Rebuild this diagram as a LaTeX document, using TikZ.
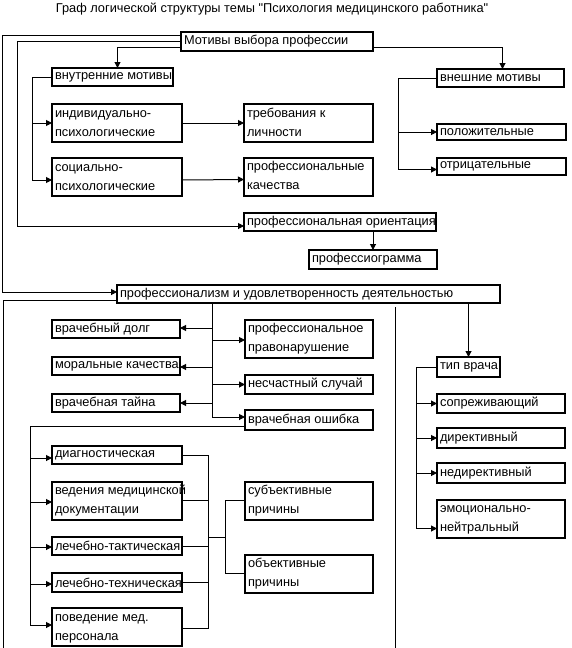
\documentclass[tikz,border=0pt]{standalone}
\usepackage{fontspec}
\setmainfont{Liberation Sans}
\newfontfamily\plainf{Liberation Sans}
\usetikzlibrary{arrows.meta}
\newcommand\tl[2]{\begin{tabular}{@{}l@{}}#1\\#2\end{tabular}}
\newcommand\bx[6]{%
 \pgfmathsetmacro\bw{#4-#2}%
 \pgfmathsetmacro\bh{#5-#3}%
 \pgfmathsetmacro\tw{#4-#2-6}%
 \node[box, minimum width=\bw pt, minimum height=\bh pt] (#1) at ({(#2+#4)/2},{(#3+#5)/2}) {\makebox[\tw pt][l]{#6}};}
\tikzset{
 box/.style={draw, line width=2pt, inner xsep=3pt, inner ysep=0pt, outer sep=0pt, fill=white},
 con/.style={line width=1pt},
 arr/.style={line width=1pt, -{Triangle[length=6pt,width=6pt]}}
}
\begin{document}
\begin{tikzpicture}[x=1pt,y=-1pt,font=\plainf\fontsize{12.8}{19}\selectfont]
\useasboundingbox[fill=white] (0,0) rectangle (571,648);
\node[inner sep=0pt] (title) at (272,9) {Граф логической структуры темы "Психология медицинского работника"};
% boxes
\bx{m}{181}{32}{373}{51}{Мотивы выбора профессии}
\bx{vn}{52}{68}{173}{86}{внутренние мотивы}
\bx{ext}{437}{69}{564}{87}{внешние мотивы}
\bx{ind}{52}{104}{182}{142}{\tl{индивидуально-}{психологические}}
\bx{soc}{52}{159}{182}{195}{\tl{социально-}{психологические}}
\bx{treb}{244}{105}{373}{141}{\tl{требования к}{личности}}
\bx{pk}{244}{158}{373}{195}{\tl{профессиональные}{качества}}
\bx{pol}{437}{124}{566}{140}{положительные}
\bx{otr}{437}{158}{566}{175}{отрицательные}
\bx{po}{244}{213}{436}{231}{профессиональная ориентация}
\bx{pg}{309}{250}{437}{269}{профессиограмма}
\bx{prof}{117}{285}{500}{303}{профессионализм и удовлетворенность деятельностью}
\bx{dolg}{52}{320}{180}{338}{врачебный долг}
\bx{mor}{52}{357}{180}{375}{моральные качества}
\bx{tai}{52}{394}{180}{412}{врачебная тайна}
\bx{pravo}{245}{320}{373}{357}{\tl{профессиональное}{правонарушение}}
\bx{ns}{245}{375}{373}{394}{несчастный случай}
\bx{osh}{245}{410}{373}{430}{врачебная ошибка}
\bx{tip}{437}{357}{500}{377}{тип врача}
\bx{sop}{437}{394}{565}{413}{сопреживающий}
\bx{dir}{437}{428}{565}{448}{директивный}
\bx{nedir}{437}{463}{565}{483}{недирективный}
\bx{emo}{437}{500}{565}{537}{\tl{эмоционально-}{нейтральный}}
\bx{diag}{52}{446}{182}{464}{диагностическая}
\bx{ved}{52}{482}{182}{519}{\tl{ведения медицинской}{документации}}
\bx{lt}{52}{537}{182}{555}{лечебно-тактическая}
\bx{ltech}{52}{573}{182}{592}{лечебно-техническая}
\bx{pov}{52}{609}{182}{645}{\tl{поведение мед.}{персонала}}
\bx{sub}{245}{482}{373}{519}{\tl{субъективные}{причины}}
\bx{obj}{245}{555}{373}{592}{\tl{объективные}{причины}}
% connectors from the main box
\draw[arr] ([yshift=-3pt]m.north west) -- (2,35) -- (2,292) -- ([yshift=-7pt]prof.north west);
\draw[arr] ([yshift=-9pt]m.north west) -- (17,41) -- (17,226) -- ([yshift=-13pt]po.north west);
\draw[arr] ([yshift=-15pt]m.north west) -| ([xshift=5pt]vn.north);
\draw[arr] ([yshift=-15pt]m.north east) -| ([xshift=2pt]ext.north);
\draw[arr] (vn.west) -- ++(-20,0) |- (ind.west);
\draw[arr] (vn.west) -- ++(-20,0) |- ([yshift=-3pt]soc.west);
\draw[arr] (ind.east) -- (treb.west);
\draw[arr] ([yshift=-3pt]soc.east) -- ([yshift=-3pt]pk.west);
\draw[arr] (ext.west) -- ++(-39,0) |- (pol.west);
\draw[arr] (ext.west) -- ++(-39,0) |- ([yshift=-3pt]otr.west);
\draw[arr] (po.south -| pg.north) -- (pg.north);
% professionalism block
\coordinate (j) at ([xshift=95pt]prof.south west);
\draw[arr] (j) |- ([yshift=1pt]dolg.east);
\draw[arr] (j) |- ([yshift=-1.5pt]pravo.west);
\draw[arr] (j) |- ([yshift=-1pt]mor.east);
\draw[arr] (j) |- (ns.west);
\draw[arr] (j) |- (tai.east);
\draw[arr] (j) |- ([yshift=3pt]osh.west);
\draw[con] ([yshift=-15pt]prof.north west) -- (3,300) -- (3,648);
\draw[con] ([xshift=278pt,yshift=-4pt]prof.south west) -- (395,648);
\draw[arr] (prof.south -| tip.north) -- (tip.north);
\draw[arr] (tip.west) -- ++(-21,0) |- (sop.west);
\draw[arr] (tip.west) -- ++(-21,0) |- (dir.west);
\draw[arr] (tip.west) -- ++(-21,0) |- (nedir.west);
\draw[arr] (tip.west) -- ++(-21,0) |- ([yshift=-10pt]emo.west);
% medical error branches
\coordinate (e0) at ([yshift=-16pt]osh.north west);
\draw[arr] (e0) -- ++(-215,0) |- ([yshift=-3pt]diag.west);
\draw[arr] (e0) -- ++(-215,0) |- ([yshift=-1.5pt]ved.west);
\draw[arr] (e0) -- ++(-215,0) |- ([yshift=-1pt]lt.west);
\draw[arr] (e0) -- ++(-215,0) |- ([yshift=-1.5pt]ltech.west);
\draw[arr] (e0) -- ++(-215,0) |- ([yshift=2pt]pov.west);
\coordinate (rb) at (208,0);
\coordinate (rc) at (225,537);
\draw[con] (diag.east) -- (diag.east -| rb) -- ([yshift=-1pt]pov.east -| rb) -- ([yshift=-1pt]pov.east);
\draw[con] (ved.east) -- (ved.east -| rb);
\draw[con] (lt.east) -- (lt.east -| rb);
\draw[con] (ltech.east) -- (ltech.east -| rb);
\draw[con] (rc -| rb) -- (rc);
\draw[con] (sub.west) -| (rc);
\draw[con] (obj.west) -| (rc);
\end{tikzpicture}
\end{document}
